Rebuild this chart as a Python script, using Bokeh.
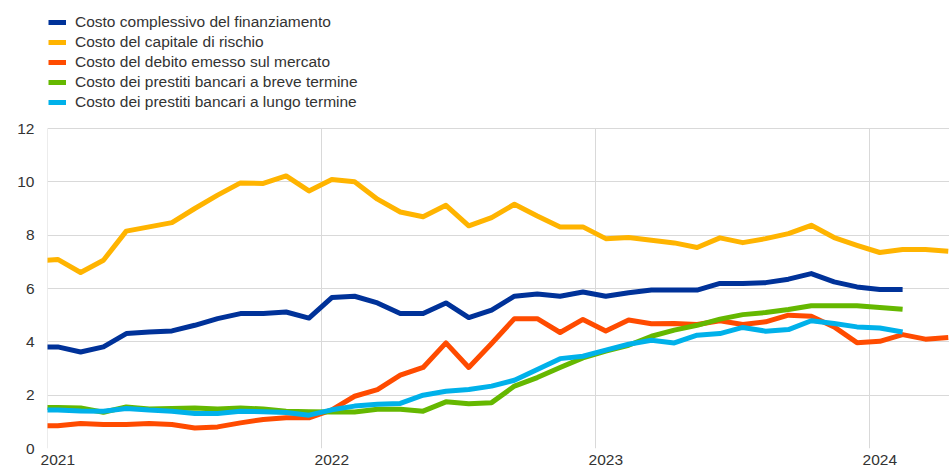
import pandas as pd
from bokeh.plotting import figure
from bokeh.models import Range1d, FixedTicker, NumeralTickFormatter, Legend, LegendItem
from bokeh.embed import file_html
from bokeh.resources import INLINE

# Monthly observations, Dec 2020 .. Apr 2024 (mid-month)
months = pd.date_range("2020-12-01", "2024-04-01", freq="MS")

costo_complessivo = [3.81, 3.81, 3.62, 3.81, 4.31, 4.37, 4.41, 4.62, 4.87, 5.06, 5.06, 5.12, 4.89,
                     5.66, 5.71, 5.46, 5.06, 5.06, 5.46, 4.91, 5.19, 5.71, 5.79, 5.71, 5.87,
                     5.71, 5.84, 5.94, 5.94, 5.94, 6.19, 6.19, 6.22, 6.35, 6.56, 6.25, 6.06,
                     5.96, 5.96]
capitale_rischio = [7.02, 7.09, 6.60, 7.06, 8.15, 8.31, 8.47, 9.00, 9.50, 9.96, 9.94, 10.22, 9.66,
                    10.09, 10.00, 9.35, 8.87, 8.69, 9.12, 8.35, 8.66, 9.16, 8.72, 8.31, 8.31,
                    7.87, 7.91, 7.81, 7.71, 7.54, 7.90, 7.72, 7.87, 8.06, 8.37, 7.91, 7.62,
                    7.35, 7.46, 7.46, 7.40]
debito_mercato = [0.85, 0.85, 0.94, 0.90, 0.90, 0.94, 0.90, 0.77, 0.81, 0.96, 1.09, 1.15, 1.15,
                  1.45, 1.96, 2.21, 2.75, 3.04, 3.96, 3.04, 3.94, 4.87, 4.87, 4.35, 4.84,
                  4.41, 4.82, 4.68, 4.69, 4.65, 4.79, 4.65, 4.75, 5.00, 4.96, 4.56, 3.97,
                  4.02, 4.27, 4.10, 4.16]
prestiti_breve = [1.54, 1.54, 1.52, 1.36, 1.56, 1.48, 1.50, 1.52, 1.48, 1.52, 1.48, 1.40, 1.38,
                  1.37, 1.37, 1.47, 1.47, 1.40, 1.75, 1.68, 1.72, 2.34, 2.66, 3.04, 3.40,
                  3.65, 3.87, 4.21, 4.44, 4.62, 4.85, 5.02, 5.10, 5.21, 5.35, 5.35, 5.35,
                  5.29, 5.22]
prestiti_lungo = [1.44, 1.44, 1.41, 1.40, 1.50, 1.44, 1.40, 1.31, 1.31, 1.40, 1.38, 1.35, 1.25,
                  1.45, 1.59, 1.66, 1.69, 2.00, 2.15, 2.21, 2.34, 2.56, 2.96, 3.37, 3.46,
                  3.69, 3.91, 4.06, 3.96, 4.25, 4.31, 4.54, 4.40, 4.46, 4.79, 4.69, 4.56,
                  4.52, 4.37]

labels = ["Costo complessivo del finanziamento",
          "Costo del capitale di rischio",
          "Costo del debito emesso sul mercato",
          "Costo dei prestiti bancari a breve termine",
          "Costo dei prestiti bancari a lungo termine"]
series = [costo_complessivo, capitale_rischio, debito_mercato, prestiti_breve, prestiti_lungo]
colors = ["#003299", "#ffb400", "#ff4b00", "#65b800", "#00b1ea"]

year_ticks = [2021, 2022, 2023, 2024]
y_ticks = [0, 2, 4, 6, 8, 10, 12]

# fractional-year positions (mid-month)
xpos = [m.year + (m.month - 1 + 0.45) / 12 for m in months]

FONT = "Liberation Sans"
FS = "15.5px"
TXT = "#333333"
GRID = "#d9d9d9"

FRAME_H = 448
Y_TOP = y_ticks[-1] * FRAME_H / 320   # leave room above the top gridline for the legend

p = figure(width=949, height=472, output_backend="svg", toolbar_location=None,
           x_range=Range1d(2021, 2021 + 902 / 274), y_range=Range1d(0, Y_TOP),
           min_border_left=47, min_border_right=0, min_border_top=0, min_border_bottom=0)
p.frame_width = 902
p.frame_height = FRAME_H
p.outline_line_color = None
p.background_fill_color = "white"
p.border_fill_color = "white"

# vertical year gridlines, limited to the value range of the y ticks
p.xgrid.visible = False
p.segment(x0=year_ticks, y0=[y_ticks[0]] * len(year_ticks),
          x1=year_ticks, y1=[y_ticks[-1]] * len(year_ticks),
          line_color=GRID, line_width=1)

items = []
for lab, vals, col in zip(labels, series, colors):
    r = p.line(xpos[:len(vals)], vals, line_color=col, line_width=5, line_join="round")
    items.append(LegendItem(label=lab, renderers=[r]))

legend = Legend(items=items, location=(1, 336), padding=0, margin=0, spacing=0,
                glyph_width=18, glyph_height=20, label_height=20, label_standoff=9,
                label_text_font=FONT, label_text_font_size=FS, label_text_color=TXT,
                border_line_color=None, background_fill_alpha=0)
p.add_layout(legend)

# axes
p.xaxis.ticker = FixedTicker(ticks=[y + 0.45 / 12 for y in year_ticks])
p.xaxis.formatter = NumeralTickFormatter(format="0")
p.yaxis.ticker = FixedTicker(ticks=y_ticks)
for ax in (p.xaxis, p.yaxis):
    ax.axis_line_color = None
    ax.major_tick_line_color = None
    ax.minor_tick_line_color = None
    ax.major_tick_out = 0
    ax.major_tick_in = 0
    ax.major_label_text_font = FONT
    ax.major_label_text_font_size = FS
    ax.major_label_text_color = TXT
p.xaxis.major_label_standoff = 6
p.yaxis.major_label_standoff = 13

p.ygrid.ticker = FixedTicker(ticks=y_ticks)
p.ygrid.grid_line_color = GRID
p.ygrid.grid_line_width = 1

open("out.html", "w").write(file_html(p, INLINE))
